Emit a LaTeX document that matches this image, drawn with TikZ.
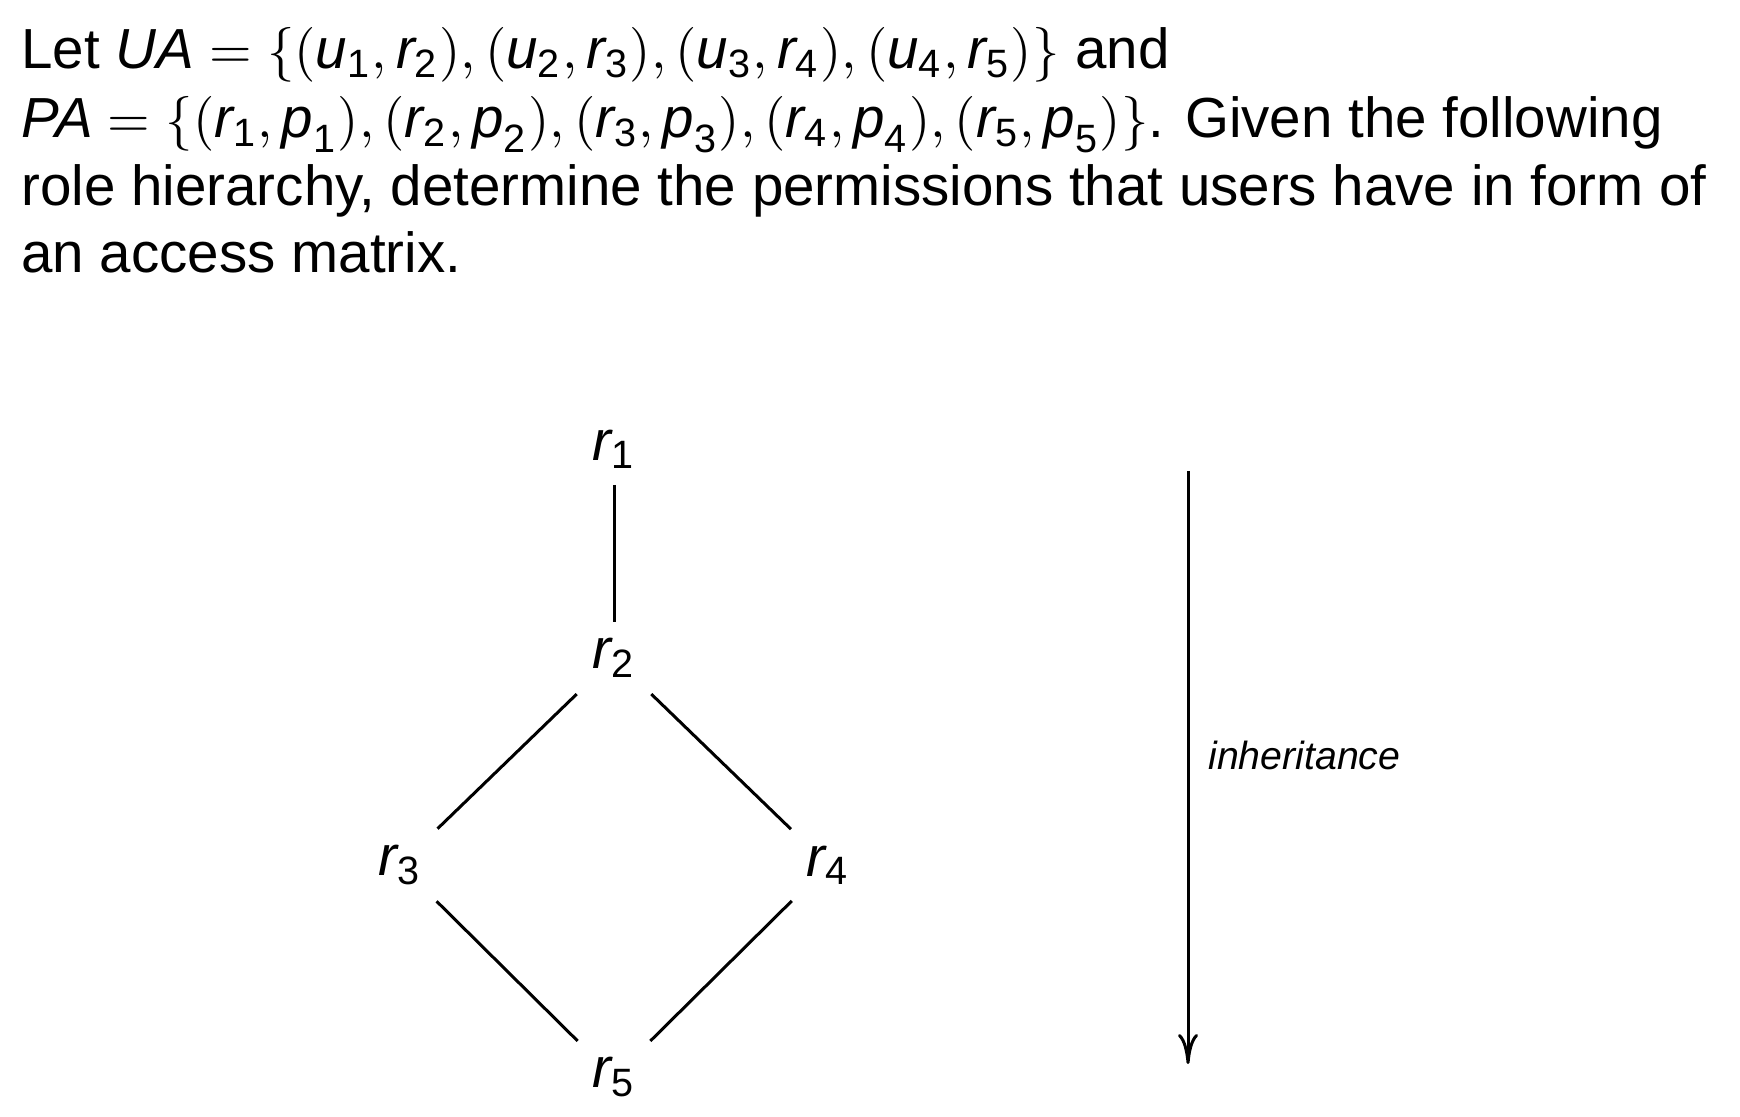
\documentclass[tikz,border=0pt]{standalone}
\usepackage{amsmath}
\usepackage{fontspec}
\setmainfont{Liberation Sans}
\usetikzlibrary{arrows.meta}
\newcommand{\mvar}[2]{\textit{#1}_{\textup{#2}}}
\begin{document}
\fontsize{11.3}{13.6}\selectfont
\begin{tikzpicture}
    [
    x=0.2pt,y=-0.2pt,
    line width=0.6pt,
    textline/.style={anchor=base west,inner sep=0pt},
    role/.style={inner sep=3pt},
    note/.style={font=\fontsize{7.85}{9.5}\selectfont\itshape}
    ]
    \useasboundingbox (0,0) rectangle (1740,1116);
    \node (line1) at (20,69) [textline] {Let $\textit{UA}=\{(\mvar{u}{1},\mvar{r}{2}),(\mvar{u}{2},\mvar{r}{3}),(\mvar{u}{3},\mvar{r}{4}),(\mvar{u}{4},\mvar{r}{5})\}$ and};
    \node (line2) at (20,138) [textline] {$\textit{PA}=\{(\mvar{r}{1},\mvar{p}{1}),(\mvar{r}{2},\mvar{p}{2}),(\mvar{r}{3},\mvar{p}{3}),(\mvar{r}{4},\mvar{p}{4}),(\mvar{r}{5},\mvar{p}{5})\}$. Given the following};
    \node (line3) at (20,206) [textline] {role hierarchy, determine the permissions that users have in form of};
    \node (line4) at (20,273) [textline] {an access matrix.};
    \node (r1) at (614,449) [role] {$\mvar{r}{1}$};
    \node (r2) at (614,658) [role] {$\mvar{r}{2}$};
    \node (r3) at (400,865) [role] {$\mvar{r}{3}$};
    \node (r4) at (828,865) [role] {$\mvar{r}{4}$};
    \node (r5) at (614,1077) [role] {$\mvar{r}{5}$};
    \coordinate (top) at (1188,471);
    \coordinate (bottom) at (1188,1064);
    \draw (r1) -- (r2);
    \draw (r2) -- (r3);
    \draw (r2) -- (r4);
    \draw (r3) -- (r5);
    \draw (r4) -- (r5);
    \draw [-{To[length=6pt,width=4pt]}] (top) -- node [pos=0.48,right,note] {inheritance} (bottom);
\end{tikzpicture}
\end{document}
